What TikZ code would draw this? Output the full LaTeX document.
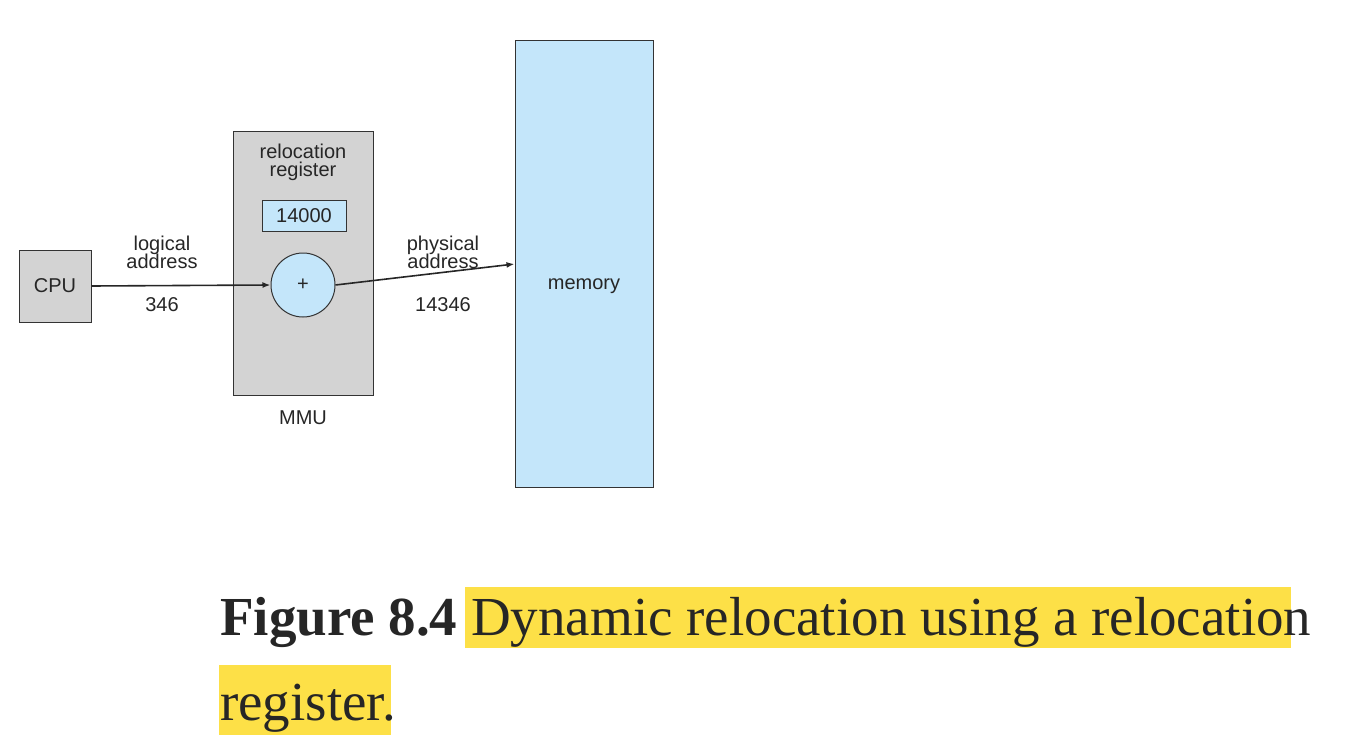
\documentclass[tikz,border=0pt]{standalone}
\usepackage{fontspec}
\setmainfont{Liberation Sans}
\newfontfamily\capfont{Liberation Serif}
\begin{document}
\begin{tikzpicture}[x=1pt,y=-1pt,
  box/.style={draw=black!80,line width=1pt},
  lbl/.style={font=\fontsize{20}{22}\selectfont,text=black!85,align=center},
  arr/.style={line width=1.6pt,black!85,-{Latex[length=8pt,width=6pt]}},
  hl/.style={fill=yellow!70!orange!60!white,draw=none}]
\usetikzlibrary{arrows.meta}
\useasboundingbox (0,0) rectangle (1348,754);
\definecolor{gbox}{HTML}{D3D3D3}
\definecolor{lblue}{HTML}{C4E6FA}
\definecolor{hly}{HTML}{FDE047}
\node[box,fill=gbox,minimum width=72pt,minimum height=72pt,inner sep=0pt,lbl] (cpu) at (55,286) {CPU};
\node[box,fill=gbox,minimum width=140pt,minimum height=263pt,inner sep=0pt] (mmu) at (303,263.5) {};
\node[lbl] (rr) at (303,162) {relocation\\[-4pt]register};
\node[box,fill=lblue,minimum width=84pt,minimum height=31pt,inner sep=0pt,lbl] (reg) at (304,215.5) {14000};
\node[box,circle,fill=lblue,minimum size=64pt,inner sep=0pt,lbl] (plus) at (303,285) {+};
\node[box,fill=lblue,minimum width=138pt,minimum height=446pt,inner sep=0pt] (mem) at (584,264) {};
\node[lbl] (memt) at (584,286) {memory};
\draw[arr] (cpu.east) -- (plus.west);
\draw[arr] (plus.east) -- (mem.west);
\node[lbl] (la) at (162,252) {logical\\[-4pt]address};
\node[lbl] (n1) at (162,305) {346};
\node[lbl] (pa) at (443,252) {physical\\[-4pt]address};
\node[lbl] (n2) at (443,305) {14346};
\node[lbl] (mmut) at (303,418) {MMU};
\fill[hly] (465,587) rectangle (1291,648);
\fill[hly] (219,665) rectangle (391,735);
\node[anchor=base west,inner sep=0pt,font=\capfont\fontsize{55}{60}\selectfont,text=black!85] (cap1) at (220,635) {\textbf{Figure 8.4} Dynamic relocation using a relocation};
\node[anchor=base west,inner sep=0pt,font=\capfont\fontsize{55}{60}\selectfont,text=black!85] (cap2) at (220,720) {register.};
\end{tikzpicture}
\end{document}
